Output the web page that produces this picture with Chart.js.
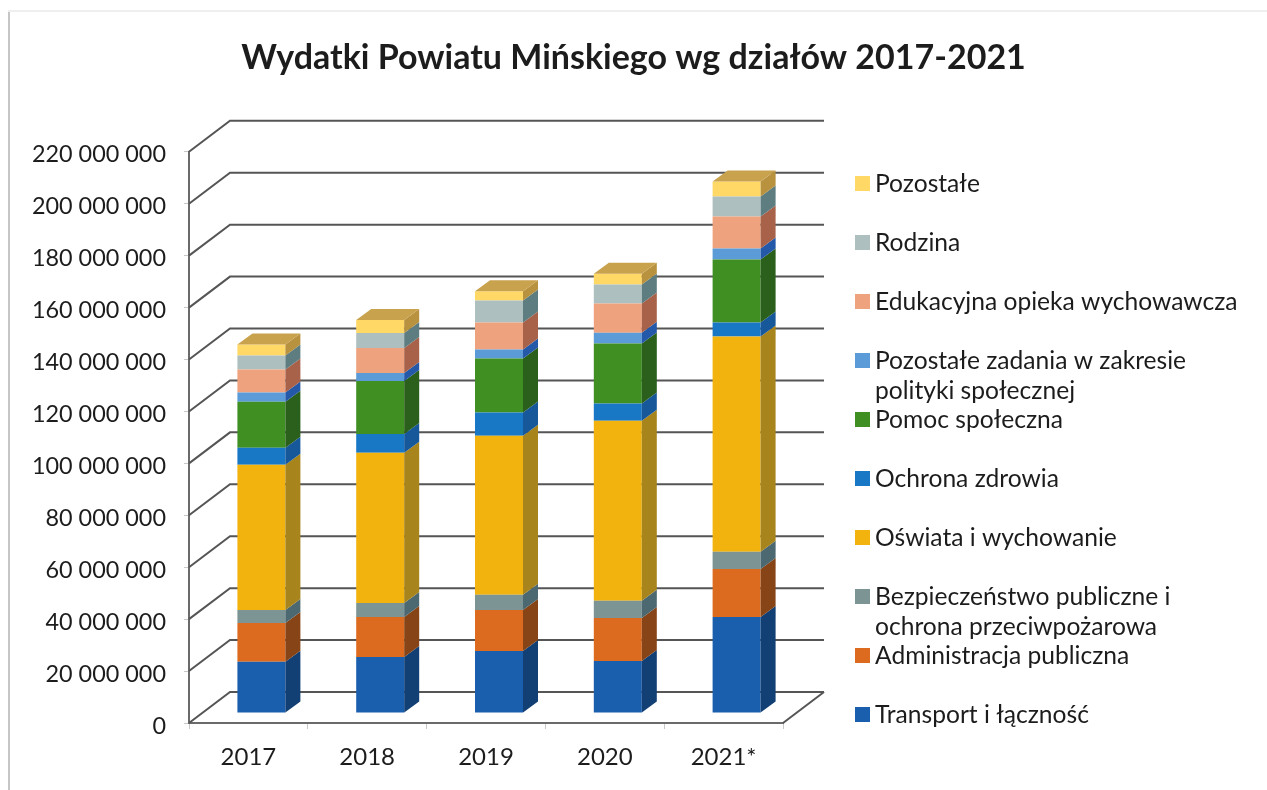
<!DOCTYPE html>
<html lang="pl">
<head>
<meta charset="utf-8">
<title>Wydatki Powiatu Mińskiego</title>
<script src="https://cdn.jsdelivr.net/npm/chart.js@4"></script>
<style>
	body { margin:0; background:#fff; }
	canvas { display:block; }
</style>
</head>
<body>
<canvas id="wydatki" width="1267" height="790"></canvas>
<script>
//	Datos, de abajo a arriba de la pila
var lata=['2017','2018','2019','2020','2021*'];

var transport=[19700000,21600000,23900000,20000000,37000000];
var administracja=[15000000,15400000,15800000,16600000,18500000];
var bezpieczenstwo=[5000000,5400000,5800000,6600000,6600000];
var oswiata=[55900000,57800000,61300000,69400000,82900000];
var zdrowie=[6600000,7300000,8900000,6600000,5400000];
var pomoc=[17700000,20400000,20800000,23100000,24300000];
var polityka=[3500000,3100000,3500000,4200000,4200000];
var edukacyjna=[8900000,9600000,10400000,11200000,12300000];
var rodzina=[5400000,5800000,8500000,7300000,7700000];
var pozostale=[4200000,5000000,3500000,4200000,5800000];

var Fuente='Lato, "Open Sans", sans-serif';
var ColorTexto='#1c1c1c';
var ColorEjes='#6a6a6a';

//	[nombre, datos, color frontal, color lateral]
var Series=[
	['Transport i łączność',transport,'#1a5fae','#123f74'],
	['Administracja publiczna',administracja,'#dc6b1f','#874517'],
	['Bezpieczeństwo publiczne i\nochrona przeciwpożarowa',bezpieczenstwo,'#7c9494','#4c6870'],
	['Oświata i wychowanie',oswiata,'#f2b30f','#a8841c'],
	['Ochrona zdrowia',zdrowie,'#1878c6','#17589a'],
	['Pomoc społeczna',pomoc,'#3f8f23','#2a5f1c'],
	['Pozostałe zadania w zakresie\npolityki społecznej',polityka,'#5b9bd8','#2458a8'],
	['Edukacyjna opieka wychowawcza',edukacyjna,'#efa27e','#a8624a'],
	['Rodzina',rodzina,'#aebfbf','#5e7d80'],
	['Pozostałe',pozostale,'#ffd866','#b8923f']
];

//	Profundidad del 3D: pared del fondo y plano de las barras
var FondoX=41, FondoY=-31;
var BarraX=13, BarraY=-10;
var LadoX=15, LadoY=-11;
var ColorTapa='#c9a24e';

//	Rejilla en perspectiva y desplazamiento de las barras
var Plano3D={
	id:'plano3d',
	beforeDraw:function(chart)
	{
		//	marco del papel escaneado
		var ctx=chart.ctx;
		ctx.save();
		ctx.fillStyle='#c6c6c6';
		ctx.fillRect(8,10,2,780);
		ctx.fillStyle='#efefef';
		ctx.fillRect(8,10,1259,2);
		ctx.restore();
	},
	beforeDatasetsDraw:function(chart)
	{
		var ctx=chart.ctx, area=chart.chartArea, y=chart.scales.y;

		ctx.save();
		ctx.strokeStyle='#555555';
		ctx.lineWidth=2;
		y.ticks.forEach(function(t){
			var py=y.getPixelForValue(t.value);
			ctx.beginPath();
			ctx.moveTo(area.left,py);
			ctx.lineTo(area.left+FondoX,py+FondoY);
			ctx.lineTo(area.right+FondoX,py+FondoY);
			ctx.stroke();
		});
		ctx.beginPath();
		ctx.moveTo(area.right,area.bottom);
		ctx.lineTo(area.right+FondoX,area.bottom+FondoY);
		ctx.stroke();
		ctx.restore();

		ctx.save();
		ctx.translate(BarraX,BarraY);
	},
	afterDatasetsDraw:function(chart)
	{
		var ctx=chart.ctx;

		chart.data.datasets.forEach(function(ds,i){
			chart.getDatasetMeta(i).data.forEach(function(bar){
				var x=bar.x+bar.width/2;
				ctx.fillStyle=ds.colorLado;
				ctx.beginPath();
				ctx.moveTo(x,bar.y);
				ctx.lineTo(x+LadoX,bar.y+LadoY);
				ctx.lineTo(x+LadoX,bar.base+LadoY);
				ctx.lineTo(x,bar.base);
				ctx.closePath();
				ctx.fill();

				if (i==chart.data.datasets.length-1)
				{
					ctx.fillStyle=ColorTapa;
					ctx.beginPath();
					ctx.moveTo(x,bar.y);
					ctx.lineTo(x+LadoX,bar.y+LadoY);
					ctx.lineTo(x+LadoX-bar.width,bar.y+LadoY);
					ctx.lineTo(x-bar.width,bar.y);
					ctx.closePath();
					ctx.fill();
				}
			});
		});
		ctx.restore();
	}
};

//	Leyenda a la derecha: hueco propio y etiquetas en dos lineas
var CajaLeyenda={
	position:'right',
	weight:0,
	fullSize:false,
	options:{},
	width:484, height:0, left:0, right:0, top:0, bottom:0,
	isHorizontal:function(){ return false; },
	update:function(maxWidth,maxHeight){ this.width=484; this.height=maxHeight; },
	draw:function()
	{
		var ctx=grafico.ctx, n=Series.length;

		ctx.save();
		ctx.font='24.6px '+Fuente;
		ctx.textBaseline='middle';
		for (var i=0;i<n;++i)
		{
			var s=Series[n-1-i], py=184+59*i, lineas=s[0].split('\n');
			ctx.fillStyle=s[2];
			ctx.fillRect(855,py-8,15,15);
			ctx.fillStyle=ColorTexto;
			for (var j=0;j<lineas.length;++j)
				ctx.fillText(lineas[j],875,py+j*30);
		}
		ctx.restore();
	}
};

var grafico=new Chart(document.getElementById('wydatki').getContext('2d'),{
	type:'bar',
	data:{
		labels:lata,
		datasets:Series.map(function(s){
			return {label:s[0],data:s[1],backgroundColor:s[2],colorLado:s[3],borderWidth:0,categoryPercentage:1,barPercentage:0.404};
		})
	},
	options:{
		responsive:false,
		animation:false,
		layout:{padding:0},
		plugins:{
			legend:{display:false},
			tooltip:{enabled:false},
			title:{
				display:true,
				text:'Wydatki Powiatu Mińskiego wg działów 2017-2021',
				color:'#1c1c1c',
				font:{family:Fuente,size:34,weight:'bold',lineHeight:1.2},
				padding:{top:38,bottom:73}
			}
		},
		scales:{
			x:{
				stacked:true,
				afterFit:function(scale){ scale.height=67; },
				border:{color:ColorEjes,width:2},
				grid:{drawOnChartArea:false,tickLength:6,color:'#c8c8c8'},
				ticks:{color:ColorTexto,padding:14,font:{family:Fuente,size:24},maxRotation:0}
			},
			y:{
				stacked:true,
				min:0,
				max:220000000,
				afterFit:function(scale){ scale.width=189; },
				border:{color:ColorEjes,width:2},
				grid:{drawOnChartArea:false,tickLength:5,color:'#c8c8c8'},
				ticks:{
					stepSize:20000000,
					color:ColorTexto,
					padding:18,
					labelOffset:3,
					font:{family:Fuente,size:23.4},
					callback:function(v){ return String(v).replace(/\B(?=(\d{3})+$)/g,' '); }
				}
			}
		}
	},
	plugins:[Plano3D]
});

Chart.layouts.addBox(grafico,CajaLeyenda);
grafico.update();
</script>
</body>
</html>
